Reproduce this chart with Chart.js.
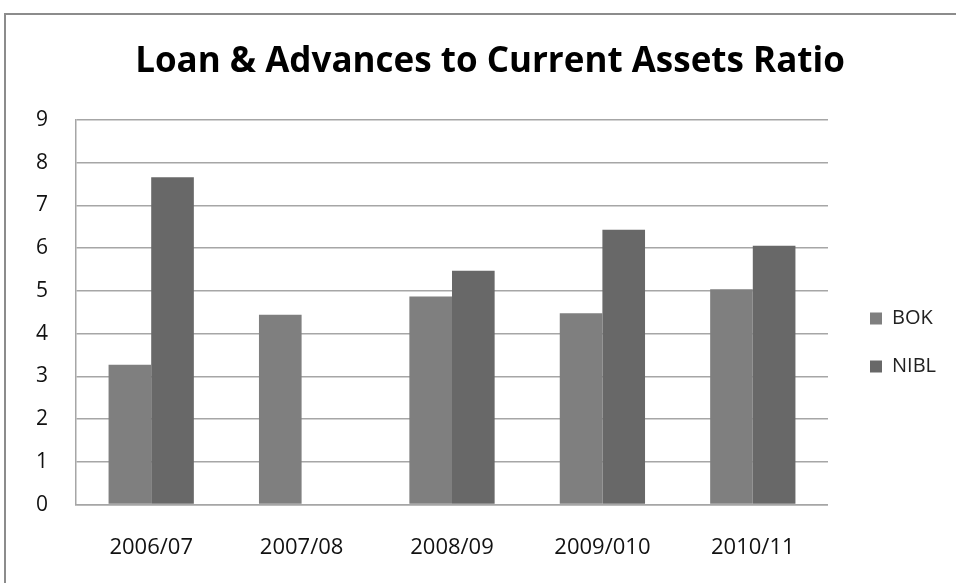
<!DOCTYPE html>
<html>
<head>
<meta charset="utf-8">
<script src="https://cdn.jsdelivr.net/npm/chart.js@4"></script>
<style>
    html, body { margin: 0; padding: 0; background: #fff; }
    #wrap { position: relative; width: 956px; height: 583px; overflow: hidden; }
    #frame { position: absolute; left: 4px; top: 13px; width: 1000px; height: 700px;
             border-left: 2px solid #8c8c8c; border-top: 2px solid #8c8c8c; }
    #chart { position: absolute; left: 0; top: 0; }
</style>
</head>
<body>
<div id="wrap">
    <div id="frame"></div>
    <canvas id="chart" width="956" height="583"></canvas>
</div>
<script>
const years = ['2006/07', '2007/08', '2008/09', '2009/010', '2010/11'];
const bokValues = [3.27, 4.44, 4.87, 4.48, 5.04];
const niblValues = [7.66, null, 5.47, 6.43, 6.06];
const yTicks = [0, 1, 2, 3, 4, 5, 6, 7, 8, 9];

const gridGray = '#a6a6a6';

new Chart(document.getElementById('chart'), {
    type: 'bar',
    data: {
        labels: years,
        datasets: [
            { label: 'BOK', data: bokValues, backgroundColor: '#7f7f7f' },
            { label: 'NIBL', data: niblValues, backgroundColor: '#686868' },
        ],
    },
    options: {
        responsive: false,
        animation: false,
        // tick padding counts twice in the axis size, so gaps come from invisible tick length
        layout: { padding: { left: 34, right: 10, bottom: 18, top: 0 } },
        datasets: { bar: { barPercentage: 1, categoryPercentage: 0.567 } },
        plugins: {
            title: {
                display: true,
                text: 'Loan & Advances to Current Assets Ratio',
                color: '#000',
                font: { family: 'Open Sans', size: 35, weight: 'bold' },
                padding: { top: 41, bottom: 37 },
            },
            legend: {
                position: 'right',
                // blank title only pushes the items down a bit
                title: { display: true, text: ' ', font: { size: 10 }, padding: { top: 0, bottom: 108 } },
                labels: {
                    color: '#222',
                    font: { family: 'Open Sans', size: 20 },
                    boxWidth: 12,
                    boxHeight: 12,
                    padding: 28,
                },
            },
            tooltip: { enabled: false },
        },
        scales: {
            x: {
                grid: { display: false, drawTicks: true, tickLength: 26 },
                border: { color: gridGray, width: 1.5 },
                ticks: {
                    color: '#111',
                    font: { family: 'Open Sans', size: 22 },
                    padding: 4,
                    maxRotation: 0,
                    minRotation: 0,
                    autoSkip: false,
                },
            },
            y: {
                min: 0,
                max: 9,
                afterBuildTicks: (scale) => { scale.ticks = yTicks.map((v) => ({ value: v })); },
                grid: { color: gridGray, lineWidth: 1.5, drawTicks: true, tickLength: 26, tickColor: 'rgba(0,0,0,0)' },
                border: { color: gridGray, width: 1.5 },
                ticks: { color: '#111', font: { family: 'Open Sans', size: 21 }, padding: 2 },
            },
            gap: {
                position: 'right',
                display: true,
                grid: { display: false, drawTicks: false },
                border: { display: false },
                ticks: { display: false },
                afterFit: (scale) => { scale.width = 14; },
            },
        },
    },
});
</script>
</body>
</html>
